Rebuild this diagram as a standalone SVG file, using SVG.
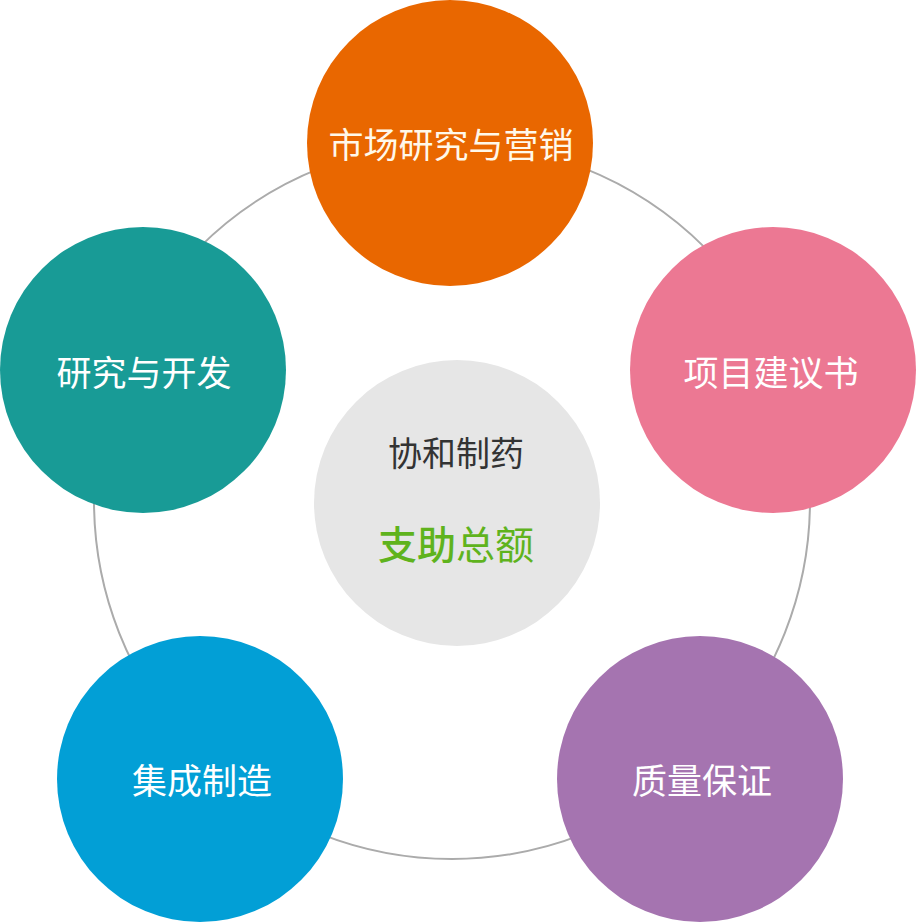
<svg xmlns="http://www.w3.org/2000/svg" width="916" height="922" viewBox="0 0 916 922">
<style>
.lbl{font-family:"Noto Sans CJK SC","Noto Sans",sans-serif;font-size:35px;fill:#ffffff;text-anchor:middle}
.ring{fill:none;stroke:#ababab;stroke-width:2}
</style>
<rect width="916" height="922" fill="#ffffff"/>
<g id="connectors">
<circle class="ring" cx="452" cy="501" r="358"/>
</g>
<g id="node-market">
<circle cx="450" cy="143" r="143" fill="#e96700"/>
<text class="lbl" x="451" y="158" style="fill:#fff8ea">市场研究与营销</text>
</g>
<g id="node-proposal">
<circle cx="773" cy="370" r="143" fill="#ec7893"/>
<text class="lbl" x="771" y="386">项目建议书</text>
</g>
<g id="node-quality">
<circle cx="700" cy="779" r="143" fill="#a574b0"/>
<text class="lbl" x="702" y="794">质量保证</text>
</g>
<g id="node-manufacture">
<circle cx="200" cy="779" r="143" fill="#029fd6"/>
<text class="lbl" x="202" y="794">集成制造</text>
</g>
<g id="node-rnd">
<circle cx="143" cy="370" r="143" fill="#189b96"/>
<text class="lbl" x="144" y="386">研究与开发</text>
</g>
<g id="node-center">
<circle cx="457" cy="503" r="143" fill="#e6e6e6"/>
<text x="456" y="466" style="font-family:'Noto Sans CJK SC','Noto Sans',sans-serif;font-size:34px;fill:#333333;text-anchor:middle">协和制药</text>
<text x="456" y="559" style="font-family:'Noto Sans CJK SC','Noto Sans',sans-serif;font-size:39px;fill:#5fb31d;text-anchor:middle"><tspan font-weight="500">支助</tspan><tspan font-weight="400">总额</tspan></text>
</g>
</svg>
